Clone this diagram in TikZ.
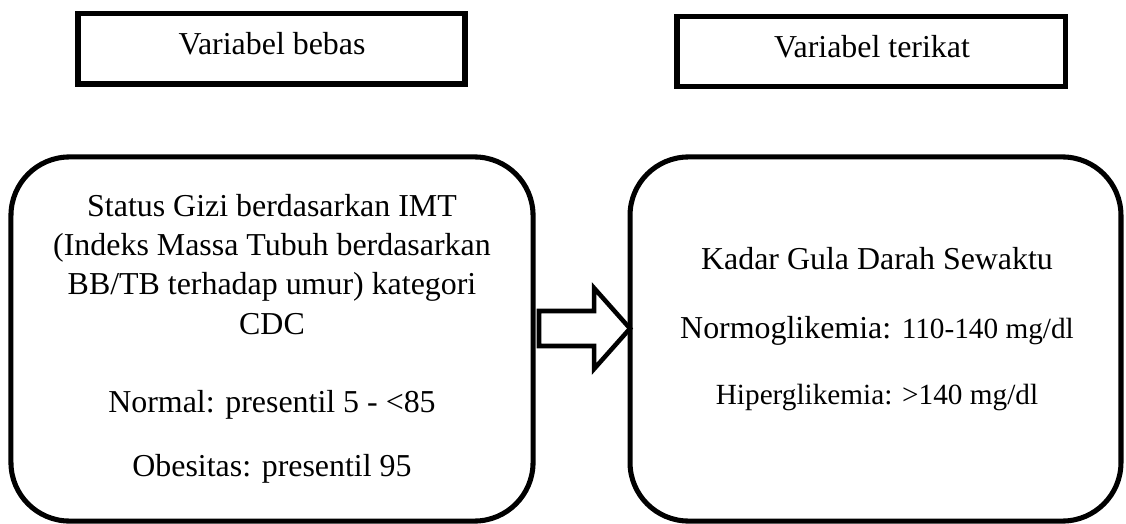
\documentclass[tikz,border=0pt]{standalone}
\usepackage{fontspec}
\setmainfont{Liberation Serif}
\begin{document}
\begin{tikzpicture}[x=0.376pt,y=-0.376pt,
  topbox/.style={draw=black,line width=1.9pt,minimum width=#1,minimum height=26.5pt,inner sep=0pt},
  bigbox/.style={draw=black,line width=1.9pt,rounded corners=22pt,minimum width=#1,minimum height=136.9pt,inner sep=0pt},
  txt/.style={anchor=base,inner sep=0pt,font=\fontsize{12}{14}\selectfont},
  smalltxt/.style={anchor=base,inner sep=0pt,font=\fontsize{11}{13}\selectfont},
  blockarrow/.style={draw=black,line width=1.7pt,fill=white,line join=miter}]
\useasboundingbox (0,0) rectangle (1126,524);
% top boxes
\node[topbox=145.5pt] (tl) at (271.5,48.75) {};
\node[txt] (tltext) at (272,55) {Variabel bebas};
\node[topbox=145.9pt] (tr) at (871,51.5) {};
\node[txt] (trtext) at (872,58) {Variabel terikat};
% big boxes
\node[bigbox=196.3pt] (lb) at (272,339) {};
\node[bigbox=184.6pt] (rb) at (875.5,339) {};
% left box text
\node[txt] (l1) at (272,217) {Status Gizi berdasarkan IMT};
\node[txt] (l2) at (272,256) {(Indeks Massa Tubuh berdasarkan};
\node[txt] (l3) at (272,295) {BB/TB terhadap umur) kategori};
\node[txt] (l4) at (272,334) {CDC};
\node[txt] (l5) at (272,412) {Normal: presentil 5 - <85};
\node[txt] (l6) at (272,476) {Obesitas: presentil 95};
% right box text
\node[txt] (r1) at (877,270) {Kadar Gula Darah Sewaktu};
\node[txt] (r2) at (877,338) {Normoglikemia: {\fontsize{11}{13}\selectfont 110-140 mg/dl}};
\node[smalltxt] (r3) at (877,404) {Hiperglikemia: >140 mg/dl};
% block arrow between the boxes
\coordinate (atail) at (539,328.5);
\coordinate (atip) at (630,328.5);
\draw[blockarrow] (atail) ++(0,-17.5) -- ++(55,0) -- ++(0,-23) -- (atip)
  -- ++(-36,40.5) -- ++(0,-23) -- ++(-55,0) -- cycle;
\end{tikzpicture}
\end{document}
